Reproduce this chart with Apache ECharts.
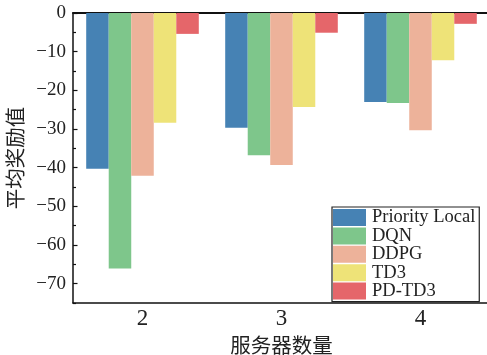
<!DOCTYPE html>
<html><head><meta charset="utf-8">
<script src="https://cdn.jsdelivr.net/npm/echarts@6/dist/echarts.min.js"></script>
<style>html,body{margin:0;padding:0;background:#fff}#c{width:487px;height:355px}</style>
</head><body><div id="c"></div>
<script>
const categories = ['2', '3', '4'];
const seriesNames = ['Priority Local', 'DQN', 'DDPG', 'TD3', 'PD-TD3'];
const priorityLocal = [-40.3, -29.7, -23.0];
const dqn = [-66.1, -36.8, -23.3];
const ddpg = [-42.1, -39.3, -30.3];
const td3 = [-28.4, -24.3, -12.2];
const pdtd3 = [-5.4, -5.1, -2.8];
const majorTicks = [0, -10, -20, -30, -40, -50, -60, -70];
const minorTicks = [-5, -15, -25, -35, -45, -55, -65, -75];
const colors = ['#4682B4', '#7EC68B', '#EDB29A', '#EEE378', '#E5666A'];
const allData = [priorityLocal, dqn, ddpg, td3, pdtd3];

const font = 'Liberation Serif';
const chart = echarts.init(document.getElementById('c'), null, {renderer: 'canvas'});
chart.setOption({
  animation: false,
  grid: {left: 73, top: 13, right: -3, bottom: 52, containLabel: false, outerBoundsMode: 'none'},
  legend: {
    orient: 'vertical', left: 332, top: 207, align: 'left',
    itemWidth: 33, itemHeight: 17, itemGap: -0.6,
    padding: [1, 4, 1, 1],
    borderColor: '#222', borderWidth: 1.2,
    icon: 'rect',
    textStyle: {fontFamily: font, fontSize: 18.5, color: '#222', padding: [0, 0, 0, 1]},
    data: seriesNames
  },
  xAxis: [{
    type: 'category', data: categories, position: 'bottom',
    axisLine: {onZero: false, lineStyle: {color: '#111', width: 1.5}},
    axisTick: {show: false},
    axisLabel: {fontFamily: font, fontSize: 23, color: '#222', margin: 4},
    name: '服务器数量', nameLocation: 'middle', nameGap: 28,
    nameTextStyle: {fontFamily: 'Noto Sans CJK SC', fontSize: 20.5, color: '#222'}
  }, {
    type: 'category', data: categories, position: 'top',
    axisLine: {onZero: false, lineStyle: {color: '#111', width: 2}},
    axisTick: {show: false}, axisLabel: {show: false}
  }],
  yAxis: [{
    type: 'value', min: -75, max: 0, interval: 5,
    axisLine: {show: true, lineStyle: {color: '#111', width: 1.5}},
    axisTick: {show: true, inside: true, length: 4.5, lineStyle: {color: '#111', width: 1.2}, customValues: majorTicks},
    axisLabel: {fontFamily: font, fontSize: 19, color: '#222', margin: 7, customValues: majorTicks,
      formatter: v => (v % 10 === 0 ? (v < 0 ? '\u2212' + Math.abs(v) : String(v)) : '')},
    splitLine: {show: false},
    name: '平均奖励值', nameLocation: 'middle', nameGap: 45,
    nameTextStyle: {fontFamily: 'Noto Sans CJK SC', fontSize: 20.5, color: '#222'}
  }, {
    type: 'value', min: -75, max: 0, interval: 5, position: 'left',
    axisLine: {show: false},
    axisTick: {show: true, inside: true, length: 3, lineStyle: {color: '#111', width: 1.2}, customValues: minorTicks},
    axisLabel: {show: false},
    splitLine: {show: false}
  }],
  series: seriesNames.map((n, i) => ({
    name: n, type: 'bar', data: allData[i], xAxisIndex: 0, yAxisIndex: 0,
    barGap: '0%', barCategoryGap: '19%',
    itemStyle: {color: colors[i]}
  }))
});
</script></body></html>
